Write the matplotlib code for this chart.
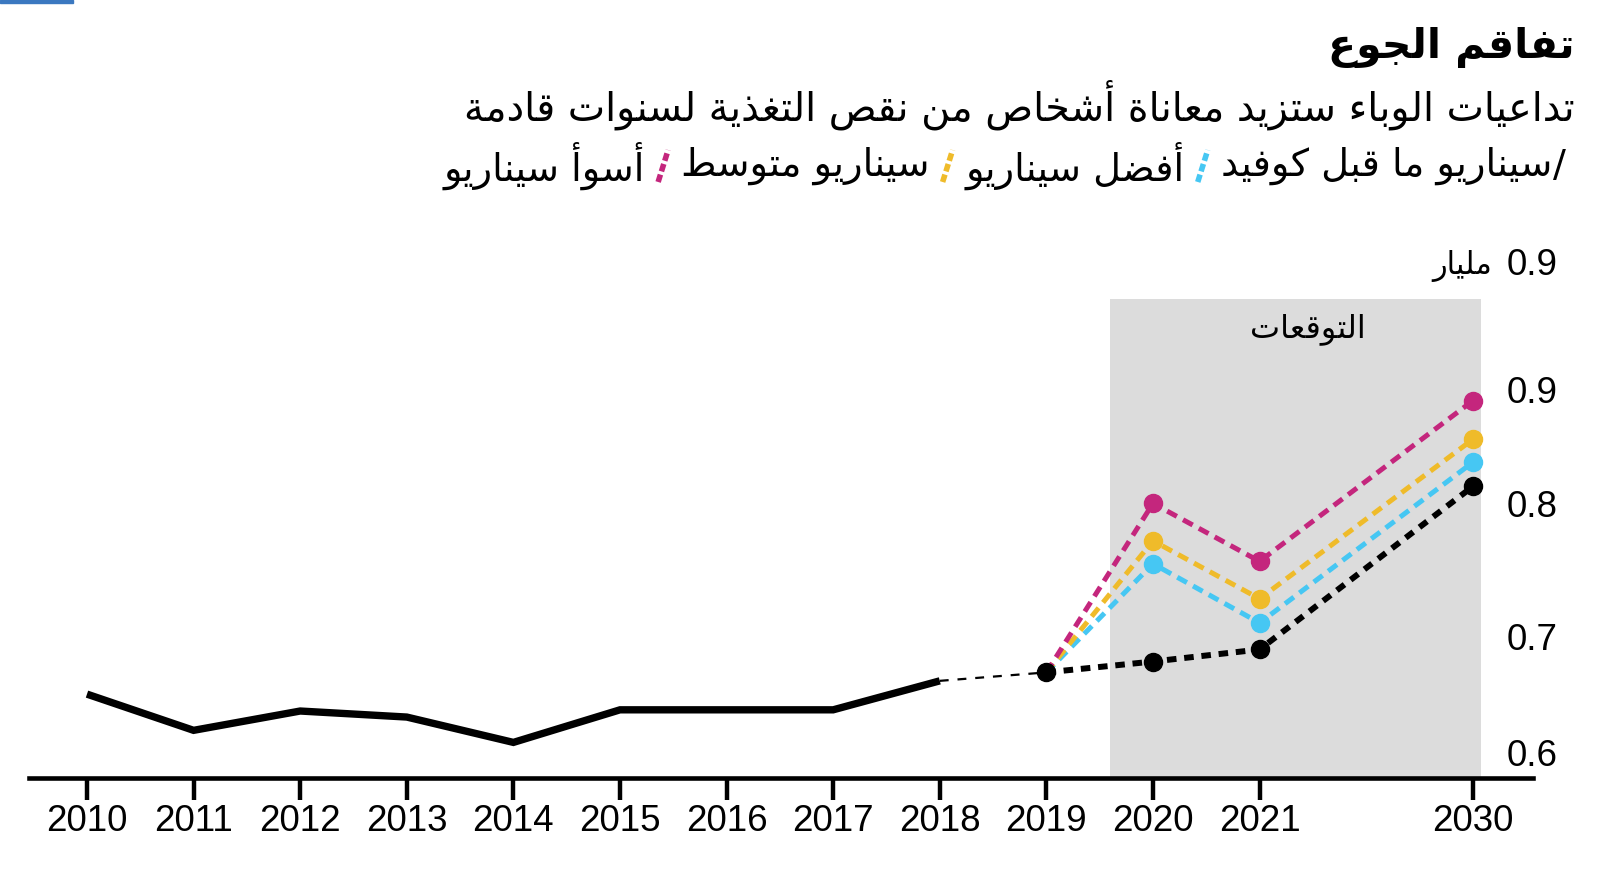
"""
Hunger chart: undernourishment scenarios (Arabic labels).
"""

import matplotlib
matplotlib.use('Agg')
import matplotlib.pyplot as plt
from matplotlib.lines import Line2D
from matplotlib.patches import Rectangle

# --- data ---
hist_years = ['2010', '2011', '2012', '2013', '2014', '2015', '2016', '2017', '2018']
hist_vals = [0.648, 0.618, 0.634, 0.629, 0.608, 0.635, 0.635, 0.635, 0.659]
bridge_years = ['2018', '2019']
bridge_vals = [0.659, 0.666]
proj_years = ['2019', '2020', '2021', '2030']
pre_covid = [0.666, 0.675, 0.685, 0.820]
best_case = [0.666, 0.756, 0.707, 0.840]
mid_case = [0.666, 0.775, 0.727, 0.859]
worst_case = [0.666, 0.806, 0.758, 0.891]
tick_years = ['2010', '2011', '2012', '2013', '2014', '2015', '2016', '2017',
              '2018', '2019', '2020', '2021', '2030']
# the source places its value labels a little unevenly
ytick_vals = [0.6, 0.696, 0.806, 0.9, 1.006]
ytick_labels = ['0.6', '0.7', '0.8', '0.9', '0.9']

title = 'تفاقم الجوع'
subtitle = 'تداعيات الوباء ستزيد معاناة أشخاص من نقص التغذية لسنوات قادمة'
legend_labels = ['سيناريو ما قبل كوفيد', 'أفضل سيناريو', 'سيناريو متوسط', 'أسوأ سيناريو']
unit_label = 'مليار'
forecast_label = 'التوقعات'

MAGENTA = '#c4267d'
YELLOW = '#efbb2a'
BLUE = '#46c7f3'
GRAY = '#dcdcdc'

# --- minimal arabic shaping (matplotlib has no bidi / shaping) ---
FORMS = {
    'ء': (0xFE80, 1), 'آ': (0xFE81, 2), 'أ': (0xFE83, 2), 'ؤ': (0xFE85, 2),
    'إ': (0xFE87, 2), 'ئ': (0xFE89, 4), 'ا': (0xFE8D, 2), 'ب': (0xFE8F, 4),
    'ة': (0xFE93, 2), 'ت': (0xFE95, 4), 'ث': (0xFE99, 4), 'ج': (0xFE9D, 4),
    'ح': (0xFEA1, 4), 'خ': (0xFEA5, 4), 'د': (0xFEA9, 2), 'ذ': (0xFEAB, 2),
    'ر': (0xFEAD, 2), 'ز': (0xFEAF, 2), 'س': (0xFEB1, 4), 'ش': (0xFEB5, 4),
    'ص': (0xFEB9, 4), 'ض': (0xFEBD, 4), 'ط': (0xFEC1, 4), 'ظ': (0xFEC5, 4),
    'ع': (0xFEC9, 4), 'غ': (0xFECD, 4), 'ف': (0xFED1, 4), 'ق': (0xFED5, 4),
    'ك': (0xFED9, 4), 'ل': (0xFEDD, 4), 'م': (0xFEE1, 4), 'ن': (0xFEE5, 4),
    'ه': (0xFEE9, 4), 'و': (0xFEED, 2), 'ى': (0xFEEF, 2), 'ي': (0xFEF1, 4),
}
LAM_ALEF = {'آ': 0xFEF5, 'أ': 0xFEF7, 'إ': 0xFEF9, 'ا': 0xFEFB}


def ar(text):
    toks = []
    i = 0
    while i < len(text):
        c = text[i]
        if c == 'ل' and i + 1 < len(text) and text[i + 1] in LAM_ALEF:
            toks.append(('LA', LAM_ALEF[text[i + 1]]))
            i += 2
        else:
            toks.append((c, None))
            i += 1

    def nforms(t):
        if t[0] == 'LA':
            return 2
        return FORMS.get(t[0], (0, 0))[1]

    out = []
    for k, t in enumerate(toks):
        n = nforms(t)
        if n == 0:
            out.append(t[0])
            continue
        base = t[1] if t[0] == 'LA' else FORMS[t[0]][0]
        prev_join = n >= 2 and k > 0 and nforms(toks[k - 1]) == 4
        next_join = n == 4 and k + 1 < len(toks) and nforms(toks[k + 1]) >= 2
        if prev_join and next_join:
            off = 3
        elif prev_join:
            off = 1
        elif next_join:
            off = 2
        else:
            off = 0
        out.append(chr(base + off))
    return ''.join(reversed(out))


plt.rcParams['font.family'] = ['DejaVu Sans']
plt.rcParams['font.size'] = 25
NUM_FONT = 'Liberation Sans'

W, H = 1600, 891
fig = plt.figure(figsize=(W / 100, H / 100), dpi=100)
fig.patches.append(Rectangle((0, 1 - 3 / H), 73 / W, 3 / H, transform=fig.transFigure,
                             color='#3b78c0', zorder=5))

ax = fig.add_axes([29 / W, 0.1268, 1504 / W, 0.6117])

xpos = {y: i for i, y in enumerate(tick_years[:-1])}
xpos['2030'] = 13


def xs(years):
    return [xpos[y] for y in years]


# forecast band
ax.fill_between([9.6, 13.08], 0.5, 0.975, color=GRAY, lw=0, zorder=0)
ax.text(11.45, 0.95, ar(forecast_label), ha='center', va='center', fontsize=23)

ax.plot(xs(hist_years), hist_vals, color='black', lw=5.3, solid_joinstyle='miter',
        solid_capstyle='butt', zorder=3)
ax.plot(xs(bridge_years), bridge_vals, color='black', lw=1.6, dashes=(4, 4), zorder=3)

for vals, col in [(best_case, BLUE), (mid_case, YELLOW), (worst_case, MAGENTA)]:
    ax.plot(xs(proj_years), vals, color=col, lw=3.6, dashes=(2.2, 1.4), zorder=4)
    ax.plot(xs(proj_years)[1:], vals[1:], 'o', color=col, ms=13, zorder=5)
ax.plot(xs(proj_years), pre_covid, color='black', lw=4.3, dashes=(1.6, 1.3), zorder=6)
ax.plot(xs(proj_years), pre_covid, 'o', color='black', ms=13, zorder=7)

ax.set_xlim(-0.544, 13.565)
ax.set_ylim(0.5785, 1.03)
ax.set_xticks(xs(tick_years))
ax.set_xticklabels(tick_years, fontfamily=NUM_FONT)
ax.set_yticks(ytick_vals)
ax.set_yticklabels(ytick_labels, fontfamily=NUM_FONT)
ax.tick_params(axis='x', length=16, width=3.2, pad=3, labelsize=26.5)
ax.tick_params(axis='y', left=False, labelleft=False, right=False, labelright=True,
               length=0, pad=-19, labelsize=26.5)
for s in ['top', 'left', 'right']:
    ax.spines[s].set_visible(False)
ax.spines['bottom'].set_linewidth(3.3)
ax.text(13.18, 1.003, ar(unit_label), ha='right', va='center', fontsize=22)

# title block
fig.text(1575 / W, 1 - 47 / H, ar(title), ha='right', va='center', fontsize=29.5,
         fontweight='bold')
fig.text(1575 / W, 1 - 105 / H, ar(subtitle), ha='right', va='center', fontsize=28.5)

# legend line, laid out right to left
renderer = fig.canvas.get_renderer()
yc = 1 - 166 / H
x = 1566
t = fig.text(x / W, yc, '/', ha='right', va='center', fontsize=27.5)
x -= t.get_window_extent(renderer).width + 1
slash_cols = [BLUE, YELLOW, MAGENTA, None]
for label, col in zip(legend_labels, slash_cols):
    t = fig.text(x / W, yc, ar(label), ha='right', va='center', fontsize=27.5)
    x -= t.get_window_extent(renderer).width + 12
    if col is not None:
        fig.add_artist(Line2D([(x - 11) / W, (x - 1) / W], [yc - 16 / H, yc + 16 / H],
                              transform=fig.transFigure, color=col, lw=4,
                              dashes=(1.4, 0.6)))
        x -= 24

fig.savefig('out.png', dpi=100)
